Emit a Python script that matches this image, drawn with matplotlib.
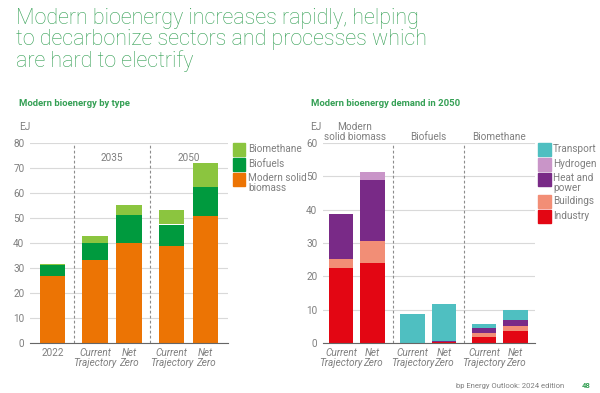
import matplotlib.pyplot as plt
from matplotlib.patches import Rectangle
import numpy as np

# left chart: modern bioenergy by type (EJ)
type_labels = ['2022', 'Current\nTrajectory', 'Net\nZero', 'Current\nTrajectory', 'Net\nZero']
solid_biomass = [26.7, 33.1, 40.0, 38.7, 50.8]
biofuels = [4.4, 6.9, 11.1, 8.7, 11.6]
biomethane = [0.4, 2.8, 4.0, 5.7, 9.6]

# right chart: demand in 2050 by sector (EJ)
demand_labels = ['Current\nTrajectory', 'Net\nZero'] * 3
industry = [22.5, 24.0, 0.0, 0.2, 1.8, 3.6]
buildings = [2.6, 6.6, 0.0, 0.0, 1.2, 1.5]
heat_power = [13.7, 18.2, 0.0, 0.4, 1.5, 1.7]
hydrogen = [0.0, 2.4, 0.0, 0.0, 0.0, 0.0]
transport = [0.0, 0.0, 8.8, 11.2, 1.2, 3.0]

GREEN_T = '#35a055'
GREY = '#7f7f7f'
C_SOLID, C_BIOF, C_BIOM = '#ec7404', '#009a3e', '#8bc53f'
C_IND, C_BLD, C_HP, C_H2, C_TR = '#e30613', '#f28e76', '#792a87', '#c995c8', '#4fbfc1'

plt.rcParams['font.family'] = ['Roboto', 'DejaVu Sans']

W, H = 600, 393
fig = plt.figure(figsize=(6, 3.93), dpi=100)


def fx(px):
    return px / W


def fy(py):
    return 1 - py / H


def style_axis(ax, ymax):
    ax.set_ylim(0, ymax)
    ax.yaxis.grid(True, color='#d9d9d9', lw=0.8)
    ax.set_axisbelow(True)
    for s in ['top', 'right', 'left']:
        ax.spines[s].set_visible(False)
    ax.spines['bottom'].set_color('#666666')
    ax.tick_params(length=0, colors=GREY, labelsize=7.2)
    ax.tick_params(axis='y', pad=4)


# ---- left chart
ax1 = fig.add_axes([fx(30), fy(343), fx(198), 200 / H])
x1 = np.array([0, 1.25, 2.25, 3.5, 4.5])
w1 = 0.74
ax1.bar(x1, solid_biomass, w1, color=C_SOLID)
ax1.bar(x1, biofuels, w1, bottom=solid_biomass, color=C_BIOF)
ax1.bar(x1, biomethane, w1, bottom=np.add(solid_biomass, biofuels), color=C_BIOM)
style_axis(ax1, 80)
ax1.set_yticks(range(0, 81, 10))
ax1.set_xlim(-0.66, 5.16)
ax1.set_xticks(x1)
ax1.set_xticklabels(type_labels, linespacing=1.0)
for i, t in enumerate(ax1.get_xticklabels()):
    if i > 0:
        t.set_style('italic')
for xd in [0.625, 2.875]:
    ax1.axvline(xd, color='#8c8c8c', ls=(0, (2.5, 2)), lw=0.8)
ax1.text(1.75, 74, '2035', ha='center', va='center', color=GREY, fontsize=7.2)
ax1.text(4.0, 74, '2050', ha='center', va='center', color=GREY, fontsize=7.2)

# ---- right chart
ax2 = fig.add_axes([fx(323), fy(343), fx(212), 200 / H])
x2 = np.array([0, 1, 2.27, 3.27, 4.54, 5.54])
w2 = 0.79
stack = [(industry, C_IND), (buildings, C_BLD), (heat_power, C_HP),
         (hydrogen, C_H2), (transport, C_TR)]
base = np.zeros(len(x2))
for vals, col in stack:
    ax2.bar(x2, vals, w2, bottom=base, color=col)
    base = base + np.array(vals)
style_axis(ax2, 60)
ax2.set_yticks(range(0, 61, 10))
ax2.set_xlim(-0.57, 6.16)
ax2.set_xticks(x2)
ax2.set_xticklabels(demand_labels, linespacing=1.0, style='italic')
for xd in [1.64, 3.9]:
    ax2.axvline(xd, color='#8c8c8c', ls=(0, (2.5, 2)), lw=0.8)

# ---- titles and annotations
fig.text(fx(16), fy(8), 'Modern bioenergy increases rapidly, helping\n'
         'to decarbonize sectors and processes which\nare hard to electrify',
         ha='left', va='top', color=GREEN_T, fontsize=15.5, fontweight='light',
         linespacing=1.0)
fig.text(fx(19), fy(104), 'Modern bioenergy by type', ha='left', va='center',
         color=GREEN_T, fontsize=6.8, fontweight='bold')
fig.text(fx(311), fy(104), 'Modern bioenergy demand in 2050', ha='left', va='center',
         color=GREEN_T, fontsize=6.8, fontweight='bold')
fig.text(fx(19), fy(127), 'EJ', ha='left', va='center', color=GREY, fontsize=7.2)
fig.text(fx(310), fy(127), 'EJ', ha='left', va='center', color=GREY, fontsize=7.2)
fig.text(fx(355), fy(132), 'Modern\nsolid biomass', ha='center', va='center',
         color=GREY, fontsize=7.2, linespacing=1.1)
fig.text(fx(428), fy(137), 'Biofuels', ha='center', va='center', color=GREY, fontsize=7.2)
fig.text(fx(499), fy(137), 'Biomethane', ha='center', va='center', color=GREY, fontsize=7.2)


def legend_item(px, py, color, label):
    fig.add_artist(Rectangle((fx(px), fy(py + 6.5)), fx(12.5), 13 / H,
                             transform=fig.transFigure, color=color))
    fig.text(fx(px + 15), fy(py), label, ha='left', va='center', color=GREY,
             fontsize=7.2, linespacing=0.95)


legend_item(233, 149, C_BIOM, 'Biomethane')
legend_item(233, 164, C_BIOF, 'Biofuels')
legend_item(233, 179, C_SOLID, '')
fig.text(fx(248), fy(183), 'Modern solid\nbiomass', ha='left', va='center', color=GREY,
         fontsize=7.2, linespacing=0.95)

legend_item(538, 149, C_TR, 'Transport')
legend_item(538, 164, C_H2, 'Hydrogen')
legend_item(538, 179, C_HP, '')
fig.text(fx(553), fy(183), 'Heat and\npower', ha='left', va='center', color=GREY,
         fontsize=7.2, linespacing=0.95)
legend_item(538, 201, C_BLD, 'Buildings')
legend_item(538, 216, C_IND, 'Industry')

fig.text(fx(564), fy(386), 'bp Energy Outlook: 2024 edition', ha='right', va='center',
         color=GREY, fontsize=5.5)
fig.text(fx(586), fy(386), '48', ha='center', va='center', color=GREEN_T,
         fontsize=5.5, fontweight='bold')

fig.savefig('out.png', dpi=100)
